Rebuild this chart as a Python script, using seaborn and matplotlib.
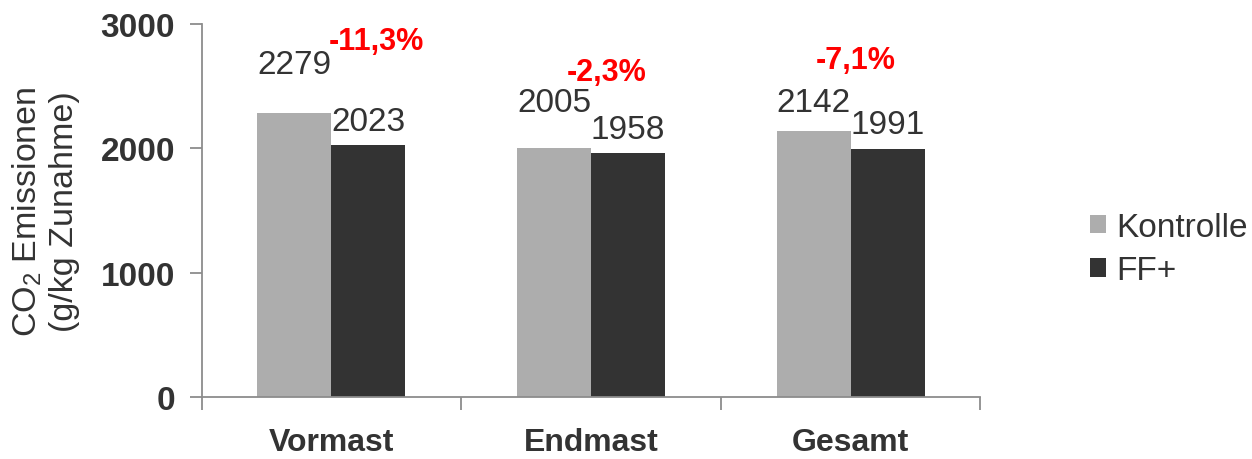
import matplotlib
matplotlib.use('Agg')
import matplotlib.pyplot as plt
import seaborn as sns
import pandas as pd
from matplotlib.patches import Patch
from matplotlib.ticker import FixedLocator

# Data
phases = ['Vormast', 'Endmast', 'Gesamt']
kontrolle = [2279, 2005, 2142]
ff_plus = [2023, 1958, 1991]
changes = ['-11,3%', '-2,3%', '-7,1%']
groups = ['Kontrolle', 'FF+']

df = pd.DataFrame({
    'phase': phases * 2,
    'gruppe': ['Kontrolle'] * 3 + ['FF+'] * 3,
    'wert': kontrolle + ff_plus,
})

# label layout: baseline gap above each bar (points), red label positions
gap_kontrolle = [29, 26, 14]
gap_ff = [11, 11, 11.5]
red_pos = [(0.175, 2800), (1.06, 2550), (2.02, 2647)]

colors = {'Kontrolle': '#adadad', 'FF+': '#333333'}
text_col = '#333333'
axis_col = '#8c8c8c'

sns.set_style('white')
plt.rcParams['font.family'] = ['Liberation Sans', 'DejaVu Sans']
plt.rcParams['mathtext.default'] = 'regular'

fig = plt.figure(figsize=(12.52, 4.6), dpi=100)
ax = fig.add_axes([0.161, 0.135, 0.622, 0.811])

sns.barplot(data=df, x='phase', y='wert', hue='gruppe', hue_order=groups,
            order=phases, palette=colors, width=0.57, gap=0, saturation=1,
            edgecolor='none', linewidth=0, legend=False, ax=ax)

ax.set_xlim(-0.5, 2.5)
ax.set_ylim(0, 3000)
ax.set_yticks([0, 1000, 2000, 3000])
ax.set_xlabel('')
ax.set_ylabel('CO$_2$ Emissionen\n(g/kg Zunahme)', fontsize=24.5, color=text_col,
              labelpad=15, linespacing=1.2)

# value labels
for cont, gaps in zip(ax.containers, [gap_kontrolle, gap_ff]):
    for bar, g in zip(cont, gaps):
        ax.annotate(f'{bar.get_height():.0f}',
                    (bar.get_x() + bar.get_width() / 2, bar.get_height()),
                    xytext=(0, g), textcoords='offset points',
                    ha='center', va='baseline', fontsize=24, color=text_col)

for (x, y), txt in zip(red_pos, changes):
    ax.text(x, y, txt, ha='center', va='baseline', fontsize=22,
            fontweight='bold', color='#ff0000')

# spines and ticks
sns.despine(ax=ax)
for s in ['left', 'bottom']:
    ax.spines[s].set_color(axis_col)
    ax.spines[s].set_linewidth(1.3)
ax.xaxis.set_minor_locator(FixedLocator([-0.5, 0.5, 1.5, 2.5]))
ax.tick_params(axis='x', which='major', length=0, pad=22, labelsize=23,
               labelcolor=text_col)
ax.tick_params(axis='x', which='minor', length=9, width=1.3, color=axis_col,
               direction='out', bottom=True)
ax.tick_params(axis='y', length=9, width=1.3, color=axis_col, direction='out',
               left=True, pad=10, labelsize=24, labelcolor=text_col)
for lab in ax.get_xticklabels() + ax.get_yticklabels():
    lab.set_fontweight('bold')

handles = [Patch(facecolor=colors[g], edgecolor='none', label=g) for g in groups]
leg = fig.legend(handles=handles, loc='center left', bbox_to_anchor=(0.8706, 0.4565),
                 frameon=False, fontsize=24, handlelength=0.48, handleheight=0.48,
                 handletextpad=0.3, labelspacing=0.38, borderpad=0,
                 borderaxespad=0)
for t in leg.get_texts():
    t.set_color(text_col)

fig.savefig('out.png', dpi=100)
